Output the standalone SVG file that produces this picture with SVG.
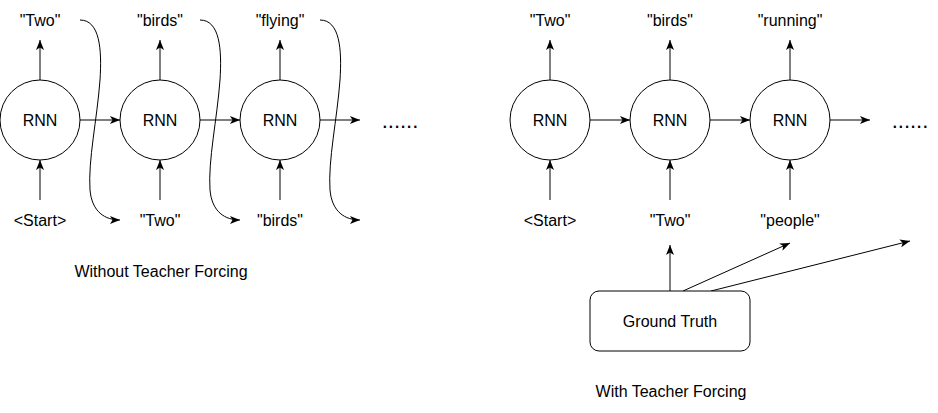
<svg xmlns="http://www.w3.org/2000/svg" width="938" height="413" viewBox="0 0 938 413">
<style>
text{font-family:"Liberation Sans",Arial,Helvetica,sans-serif;font-size:16px;fill:#000;text-anchor:middle;dominant-baseline:central}
.node{fill:#fff;stroke:#000;stroke-width:1}
.edge{fill:none;stroke:#000;stroke-width:1;marker-end:url(#arr)}
.dots{font-size:22px;dominant-baseline:alphabetic}
</style>
<defs>
<marker id="arr" viewBox="0 0 10 8" refX="10" refY="4" markerWidth="10" markerHeight="8" markerUnits="userSpaceOnUse" orient="auto">
<path d="M0,0 L10,4 L0,8 L2.5,4 Z" fill="#000"/>
</marker>
</defs>
<rect width="938" height="413" fill="#fff"/>
<g id="connectors">
<!-- left -->
<line class="edge" x1="40" y1="80" x2="40" y2="40"/>
<line class="edge" x1="160" y1="80" x2="160" y2="40"/>
<line class="edge" x1="280" y1="80" x2="280" y2="40"/>
<line class="edge" x1="40" y1="200" x2="40" y2="160"/>
<line class="edge" x1="160" y1="200" x2="160" y2="160"/>
<line class="edge" x1="280" y1="200" x2="280" y2="160"/>
<line class="edge" x1="80" y1="120" x2="120" y2="120"/>
<line class="edge" x1="200" y1="120" x2="240" y2="120"/>
<line class="edge" x1="320" y1="120" x2="360" y2="120"/>
<path class="edge" d="M80 20 C100 20,102 50,100 80 C97 120,88 160,90 190 C92 212,105 220,120 220"/>
<path class="edge" d="M200 20 C220 20,222 50,220 80 C217 120,208 160,210 190 C212 212,225 220,240 220"/>
<path class="edge" d="M320 20 C340 20,342 50,340 80 C337 120,328 160,330 190 C332 212,345 220,360 220"/>
<!-- right -->
<line class="edge" x1="550" y1="80" x2="550" y2="40"/>
<line class="edge" x1="670" y1="80" x2="670" y2="40"/>
<line class="edge" x1="790" y1="80" x2="790" y2="40"/>
<line class="edge" x1="550" y1="200" x2="550" y2="160"/>
<line class="edge" x1="670" y1="200" x2="670" y2="160"/>
<line class="edge" x1="790" y1="200" x2="790" y2="160"/>
<line class="edge" x1="590" y1="120" x2="630" y2="120"/>
<line class="edge" x1="710" y1="120" x2="750" y2="120"/>
<line class="edge" x1="830" y1="120" x2="870" y2="120"/>
<line class="edge" x1="670" y1="291" x2="670" y2="245"/>
<line class="edge" x1="683" y1="291" x2="790" y2="243"/>
<line class="edge" x1="711" y1="291" x2="910" y2="241"/>
</g>
<g id="rnn-l1"><circle class="node" cx="40" cy="120" r="40"/><text x="40" y="120">RNN</text></g>
<g id="rnn-l2"><circle class="node" cx="160" cy="120" r="40"/><text x="160" y="120">RNN</text></g>
<g id="rnn-l3"><circle class="node" cx="280" cy="120" r="40"/><text x="280" y="120">RNN</text></g>
<g id="out-l1"><text x="40" y="20">"Two"</text></g>
<g id="out-l2"><text x="160" y="20">"birds"</text></g>
<g id="out-l3"><text x="280" y="20">"flying"</text></g>
<g id="in-l1"><text x="40" y="220">&lt;Start&gt;</text></g>
<g id="in-l2"><text x="160" y="220">"Two"</text></g>
<g id="in-l3"><text x="280" y="220">"birds"</text></g>
<g id="dots-l"><text class="dots" x="400" y="128">......</text></g>
<g id="caption-l"><text x="161" y="271">Without Teacher Forcing</text></g>
<g id="rnn-r1"><circle class="node" cx="550" cy="120" r="40"/><text x="550" y="120">RNN</text></g>
<g id="rnn-r2"><circle class="node" cx="670" cy="120" r="40"/><text x="670" y="120">RNN</text></g>
<g id="rnn-r3"><circle class="node" cx="790" cy="120" r="40"/><text x="790" y="120">RNN</text></g>
<g id="out-r1"><text x="550" y="20">"Two"</text></g>
<g id="out-r2"><text x="670" y="20">"birds"</text></g>
<g id="out-r3"><text x="790" y="20">"running"</text></g>
<g id="in-r1"><text x="550" y="220">&lt;Start&gt;</text></g>
<g id="in-r2"><text x="670" y="220">"Two"</text></g>
<g id="in-r3"><text x="790" y="220">"people"</text></g>
<g id="dots-r"><text class="dots" x="910" y="128">......</text></g>
<g id="ground-truth"><rect class="node" x="590" y="291" width="160" height="60" rx="9" ry="9"/><text x="670" y="321">Ground Truth</text></g>
<g id="caption-r"><text x="671" y="391">With Teacher Forcing</text></g>
</svg>
